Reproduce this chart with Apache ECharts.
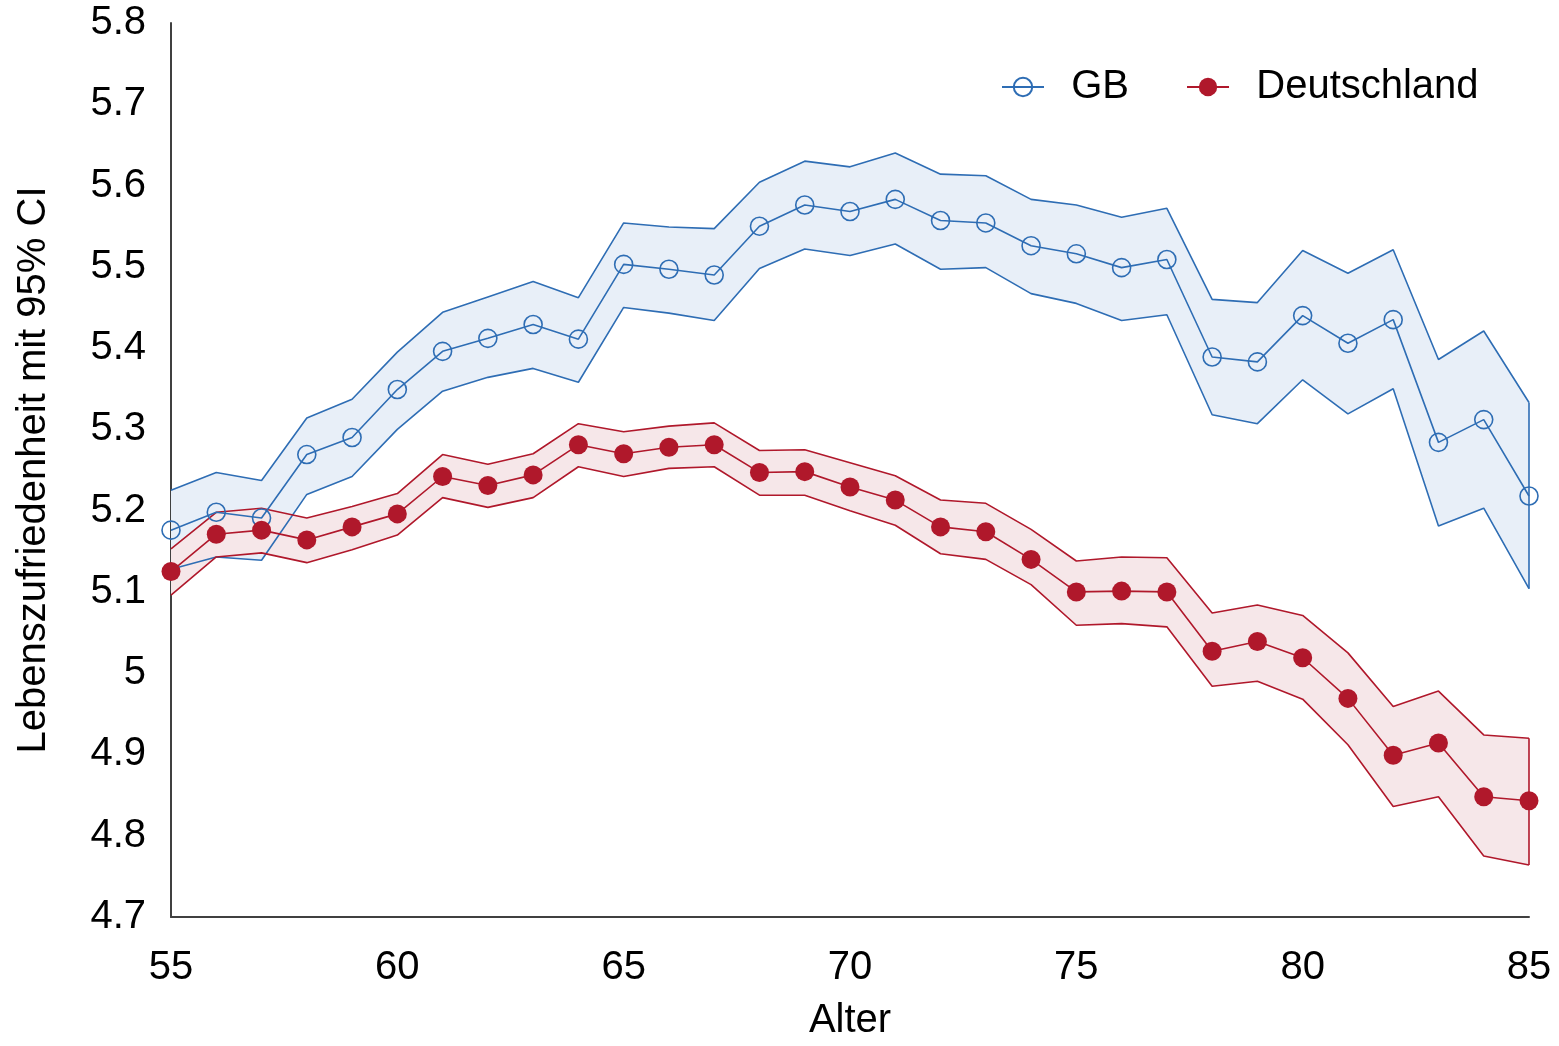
<!DOCTYPE html>
<html>
<head>
<meta charset="utf-8">
<script src="https://cdn.jsdelivr.net/npm/echarts@6/dist/echarts.min.js"></script>
<style>html,body{margin:0;padding:0;background:#fff}#c{width:1559px;height:1046px}</style>
</head>
<body>
<div id="c"></div>
<script>
const ages = ['55','56','57','58','59','60','61','62','63','64','65','66','67','68','69','70','71','72','73','74','75','76','77','78','79','80','81','82','83','84','85'];
const gbMean = [5.176,5.198,5.191,5.269,5.290,5.349,5.396,5.412,5.429,5.411,5.503,5.497,5.490,5.550,5.576,5.568,5.583,5.557,5.554,5.526,5.516,5.499,5.509,5.389,5.383,5.440,5.406,5.435,5.284,5.312,5.218];
const gbUpper = [5.225,5.247,5.237,5.314,5.337,5.395,5.444,5.463,5.482,5.462,5.554,5.549,5.547,5.604,5.630,5.623,5.640,5.614,5.612,5.583,5.576,5.561,5.572,5.460,5.456,5.520,5.492,5.521,5.386,5.421,5.333];
const gbLower = [5.128,5.143,5.139,5.220,5.242,5.300,5.347,5.364,5.375,5.358,5.450,5.443,5.434,5.498,5.522,5.514,5.528,5.497,5.499,5.467,5.455,5.434,5.441,5.318,5.307,5.361,5.319,5.350,5.181,5.203,5.104];
const deMean = [5.125,5.171,5.176,5.164,5.180,5.196,5.242,5.231,5.244,5.281,5.270,5.278,5.281,5.247,5.248,5.229,5.213,5.180,5.174,5.140,5.100,5.101,5.100,5.027,5.039,5.019,4.969,4.899,4.914,4.848,4.843];
const deUpper = [5.153,5.198,5.203,5.191,5.205,5.221,5.269,5.257,5.270,5.307,5.297,5.304,5.308,5.274,5.275,5.259,5.243,5.213,5.209,5.177,5.138,5.143,5.142,5.074,5.084,5.071,5.025,4.959,4.978,4.924,4.920];
const deLower = [5.096,5.143,5.148,5.136,5.152,5.170,5.216,5.204,5.216,5.254,5.242,5.252,5.254,5.219,5.219,5.200,5.182,5.147,5.140,5.109,5.059,5.061,5.057,4.984,4.990,4.968,4.912,4.836,4.848,4.775,4.764];
const yTicks = [4.7,5.8,0.1];
const xLabelEvery = 5;
const seriesNames = ['GB','Deutschland'];

const BLUE = '#2E6DB4', BLUE_FILL = '#E8EFF8';
const RED = '#B0182B', RED_FILL = '#F6E7E9';
const FONT = 'Liberation Sans';

const last = ages.length - 1;
const diff = (u, l) => u.map((v, i) => +(v - l[i]).toFixed(4));

function bandBase(stack, lower) {
  return {type:'line', stack, data:lower, symbol:'none', lineStyle:{width:0, opacity:0}, silent:true, z:1};
}
function bandFill(stack, u, l, fill) {
  return {type:'line', stack, data:diff(u,l), symbol:'none', lineStyle:{width:0, opacity:0}, areaStyle:{color:fill, opacity:1}, silent:true, z:1};
}
function border(arr, color, u, l) {
  const s = {type:'line', data:arr, symbol:'none', lineStyle:{color, width:1.6}, silent:true, z:2};
  if (u) {
    s.markLine = {symbol:'none', silent:true, label:{show:false}, animation:false,
      lineStyle:{color, width:1.6, type:'solid'},
      data:[[{coord:[ages[last], l[last]]},{coord:[ages[last], u[last]]}]]};
  }
  return s;
}

const chart = echarts.init(document.getElementById('c'), null, {renderer:'canvas'});
chart.setOption({
  animation:false,
  backgroundColor:'#fff',
  grid:{left:171, right:30, top:23, bottom:122, containLabel:false},
  legend:{
    data:[seriesNames[0], seriesNames[1]],
    left:996, top:62, itemGap:57, itemWidth:42, itemHeight:23,
    textStyle:{fontFamily:FONT, fontSize:40, color:'#000'},
    formatter: n => '  ' + n
  },
  xAxis:{
    type:'category', data:ages, boundaryGap:false,
    axisLine:{lineStyle:{color:'#404040', width:2}},
    axisTick:{show:false}, splitLine:{show:false},
    axisLabel:{fontFamily:FONT, fontSize:40, color:'#000', margin:31, interval:xLabelEvery-1},
    name:'Alter', nameLocation:'middle', nameGap:84,
    nameTextStyle:{fontFamily:FONT, fontSize:40, color:'#000'}
  },
  yAxis:{
    type:'value', min:yTicks[0], max:yTicks[1], interval:yTicks[2],
    axisLine:{show:true, lineStyle:{color:'#404040', width:2}},
    axisTick:{show:false}, splitLine:{show:false},
    axisLabel:{fontFamily:FONT, fontSize:40, color:'#000', margin:25,
      formatter: v => String(parseFloat(v.toFixed(1)))},
    name:'Lebenszufriedenheit mit 95% CI', nameLocation:'middle', nameGap:117,
    nameTextStyle:{fontFamily:FONT, fontSize:40, color:'#000'}
  },
  series:[
    bandBase('gb', gbLower), bandFill('gb', gbUpper, gbLower, BLUE_FILL),
    bandBase('de', deLower), bandFill('de', deUpper, deLower, RED_FILL),
    border(gbUpper, BLUE, gbUpper, gbLower), border(gbLower, BLUE),
    border(deUpper, RED, deUpper, deLower), border(deLower, RED),
    {name:seriesNames[0], type:'line', data:gbMean, symbol:'circle', symbolSize:18, z:3,
      lineStyle:{color:BLUE, width:1.6},
      itemStyle:{color:'rgba(255,255,255,0)', borderColor:BLUE, borderWidth:1.6}},
    {name:seriesNames[1], type:'line', data:deMean, symbol:'circle', symbolSize:19, z:3,
      lineStyle:{color:RED, width:1.6},
      itemStyle:{color:RED, borderColor:RED, borderWidth:0}}
  ]
});
</script>
</body>
</html>
